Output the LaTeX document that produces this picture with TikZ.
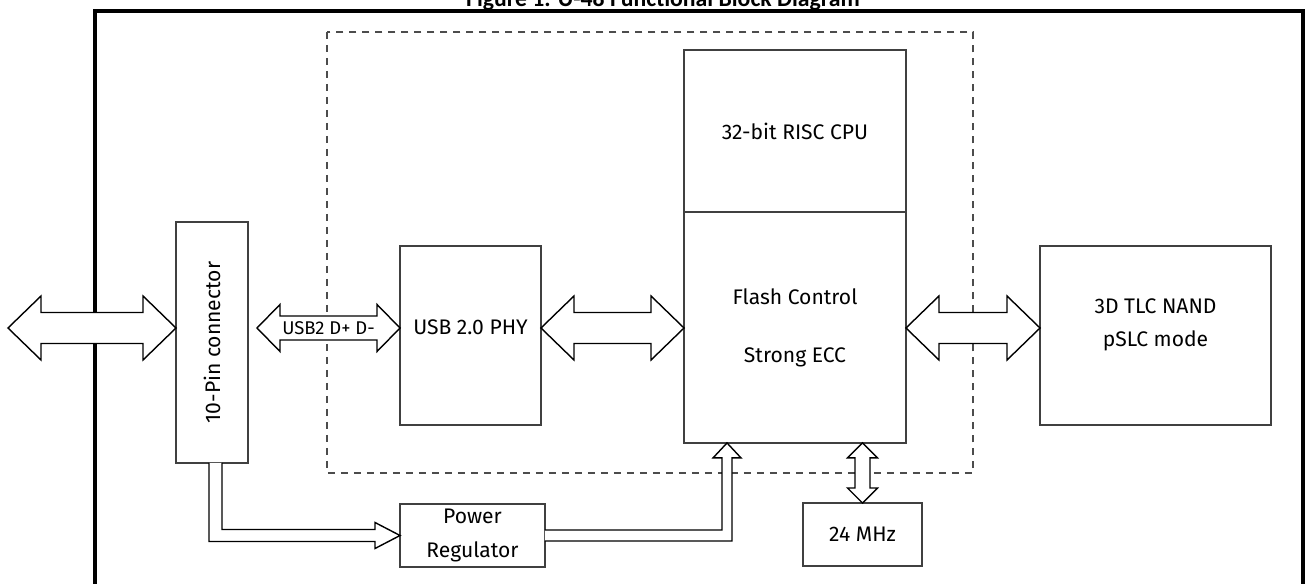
\documentclass[tikz,border=0pt]{standalone}
\usepackage{fontspec}
\usepackage{graphicx}
\setmainfont{Fira Sans}
\newfontfamily\titlefont{Carlito}
\usetikzlibrary{positioning, calc}

% hollow double arrow between two points on one row
\newcommand{\busarrow}[6]{%
  \draw[hollow] let \p1=(#1), \p2=(#2) in
    (\x1,\y1) -- (\x1+#5,\y1+#4) -- (\x1+#5,\y1+#3) -- (\x2-#5,\y1+#3)
    -- (\x2-#5,\y1+#4) -- (\x2,\y1) -- (\x2-#5,\y1-#4) -- (\x2-#5,\y1-#3)
    -- (\x1+#5,\y1-#3) -- (\x1+#5,\y1-#4) -- cycle
    (\x1/2+\x2/2,\y1) node[buslabel] {#6};}

% hollow double arrow between two points on one column
\newcommand{\busarrowv}[5]{%
  \draw[hollow] let \p1=(#1), \p2=(#2) in
    (\x1,\y1) -- (\x1+#4,\y1-#5) -- (\x1+#3,\y1-#5) -- (\x1+#3,\y2+#5)
    -- (\x1+#4,\y2+#5) -- (\x1,\y2) -- (\x1-#4,\y2+#5) -- (\x1-#3,\y2+#5)
    -- (\x1-#3,\y1-#5) -- (\x1-#4,\y1-#5) -- cycle;}

\begin{document}
\begin{tikzpicture}[
    x=0.02cm, y=-0.02cm,
    font=\fontsize{12}{19}\selectfont,
    block/.style={
        draw=black!75,
        line width=1pt,
        fill=white,
        inner sep=0pt,
        outer sep=0pt,
        align=center
    },
    hollow/.style={
        draw=black,
        line width=0.8pt,
        fill=white,
        line join=miter
    },
    buslabel/.style={
        font=\fontsize{10.5}{12}\selectfont,
        inner sep=0pt
    },
    chip/.style={
        draw=black!70,
        line width=1.2pt,
        dash pattern=on 0.15cm off 0.11cm
    },
    frame/.style={
        draw=black,
        line width=1.8pt
    }
]

\useasboundingbox (0,0) rectangle (1306,584);

% --- FRAME AND TITLE ------------------------------------------

\draw[frame] (95,600) |- (1303,11) -- (1303,600);
\node[font=\titlefont\bfseries\fontsize{13.5}{15}\selectfont, anchor=base] (title)
    at (663,7) {Figure 1. U-48 Functional Block Diagram};

% --- CONTROLLER BOUNDARY --------------------------------------

\draw[chip] (327,32) rectangle (973,473);

% --- BLOCKS ---------------------------------------------------

\node[block, minimum width=1.44cm, minimum height=4.82cm] (pin) at (212,342.5)
    {\rotatebox{90}{10-Pin connector}};
\node[block, minimum width=2.82cm, minimum height=3.58cm, text depth=9pt] (phy)
    at (470.5,335.5) {USB 2.0 PHY};
\node[block, minimum width=4.44cm, minimum height=3.24cm] (cpu) at (795,131)
    {32-bit RISC CPU};
\node[block, minimum width=4.44cm, minimum height=4.62cm, below=0pt of cpu] (fc)
    {Flash Control\\[14pt]Strong ECC};
\node[block, minimum width=4.62cm, minimum height=3.58cm, text depth=15pt] (nand)
    at (1155.5,335.5) {3D TLC NAND\\pSLC mode};
\node[block, minimum width=2.9cm, minimum height=1.26cm] (reg) at (472.5,535.5)
    {Power\\Regulator};
\node[block, minimum width=2.38cm, minimum height=1.26cm] (clk) at (862.5,534.5)
    {24 MHz};

% --- DATA BUSES -----------------------------------------------

\coordinate (host) at (8,328);

\busarrow{host}{host -| pin.west}{0.31cm}{0.64cm}{0.66cm}{}
\busarrow{$(host -| pin.east)+(9,0)$}{host -| phy.west}{0.24cm}{0.47cm}{0.46cm}{USB2 D+ D-}
\busarrow{host -| phy.east}{host -| fc.west}{0.31cm}{0.64cm}{0.66cm}{}
\busarrow{host -| fc.east}{host -| nand.west}{0.31cm}{0.64cm}{0.66cm}{}
\busarrowv{clk.north |- fc.south}{clk.north}{0.15cm}{0.3cm}{0.3cm}

% --- POWER PATH -----------------------------------------------

\draw[hollow] let \p1=(pin.south), \p2=(reg.west) in
    (\x1-0.06cm,\y1) -- (\x1-0.06cm,\y2-0.12cm) -- (\x2-0.5cm,\y2-0.12cm)
    -- (\x2-0.5cm,\y2-0.26cm) -- (\x2,\y2) -- (\x2-0.5cm,\y2+0.26cm)
    -- (\x2-0.5cm,\y2+0.12cm) -- (\x1+0.2cm,\y2+0.12cm) -- (\x1+0.2cm,\y1);

\coordinate (pwrin) at ($(fc.south west)+(43,0)$);
\draw[hollow] let \p1=(reg.east), \p2=(pwrin) in
    (\x1,\y1+0.11cm) -- (\x2-0.1cm,\y1+0.11cm) -- (\x2-0.1cm,\y2-0.3cm)
    -- (\x2-0.28cm,\y2-0.3cm) -- (\x2,\y2) -- (\x2+0.28cm,\y2-0.3cm)
    -- (\x2+0.1cm,\y2-0.3cm) -- (\x2+0.1cm,\y1-0.11cm) -- (\x1,\y1-0.11cm);

\end{tikzpicture}
\end{document}
